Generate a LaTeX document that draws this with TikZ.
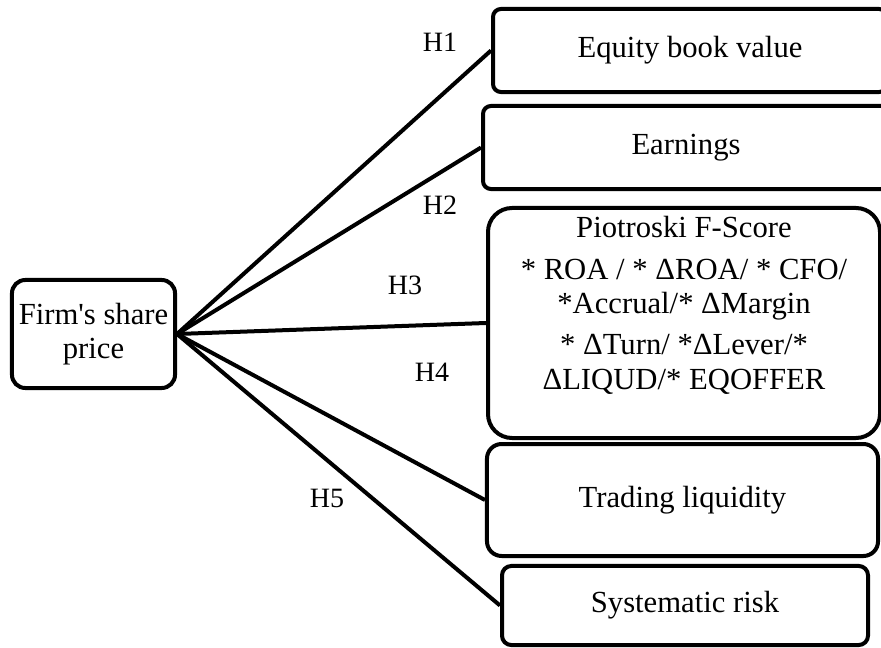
\documentclass[tikz,border=0pt]{standalone}
\usepackage{fontspec}
\setmainfont{Liberation Serif}
\begin{document}
\begin{tikzpicture} [x=0.75pt,y=-0.75pt,box/.style={rectangle, draw, line width=3pt, inner sep=2pt, rounded corners=8pt, align=center, font=\fontsize{23}{26}\selectfont},hyp/.style={inner sep=0pt, font=\fontsize{21}{24}\selectfont}]
  \useasboundingbox (0,0) rectangle (881,648);

  \node[box, rounded corners=10pt, minimum width=122.3pt, minimum height=81pt] (firm) at (93.5,334) {Firm\textquotesingle s share\\[-1pt]price};

  \node[box, rounded corners=6pt, minimum width=295.5pt, minimum height=62.3pt] (equity) at (690,50.5) {Equity book value};
  \node[box, rounded corners=6pt, minimum width=304.5pt, minimum height=62.3pt] (earn) at (686,147.5) {Earnings};
  \node[box, rounded corners=18pt, minimum width=294pt, minimum height=172.5pt] (fscore) at (684,323) {};
  \node[align=center, inner sep=0pt, font=\fontsize{23}{26}\selectfont] (fstext) at (684,305) {Piotroski F-Score\\[5.5pt]* ROA / * ΔROA/ * CFO/\\*Accrual/* ΔMargin\\[4.5pt]* ΔTurn/ *ΔLever/*\\ΔLIQUD/* EQOFFER};
  \node[box, rounded corners=11pt, minimum width=293.3pt, minimum height=84pt] (trade) at (682.5,500) {Trading liquidity};
  \node[box, rounded corners=7pt, minimum width=274.5pt, minimum height=59.3pt] (risk) at (685,605.5) {Systematic risk};

  \node[hyp] (h1) at (440,42) {H1};
  \node[hyp] (h2) at (440,205) {H2};
  \node[hyp] (h3) at (405,285) {H3};
  \node[hyp] (h4) at (432,372) {H4};
  \node[hyp] (h5) at (327,498) {H5};

    \draw[line width=3pt] (firm.east) -- (equity.west);
    \draw[line width=3pt] (firm.east) -- (earn.west);
    \draw[line width=3pt] (firm.east) -- (fscore.west);
    \draw[line width=3pt] (firm.east) -- (trade.west);
    \draw[line width=3pt] (firm.east) -- (risk.west);

\end{tikzpicture}
\end{document}
